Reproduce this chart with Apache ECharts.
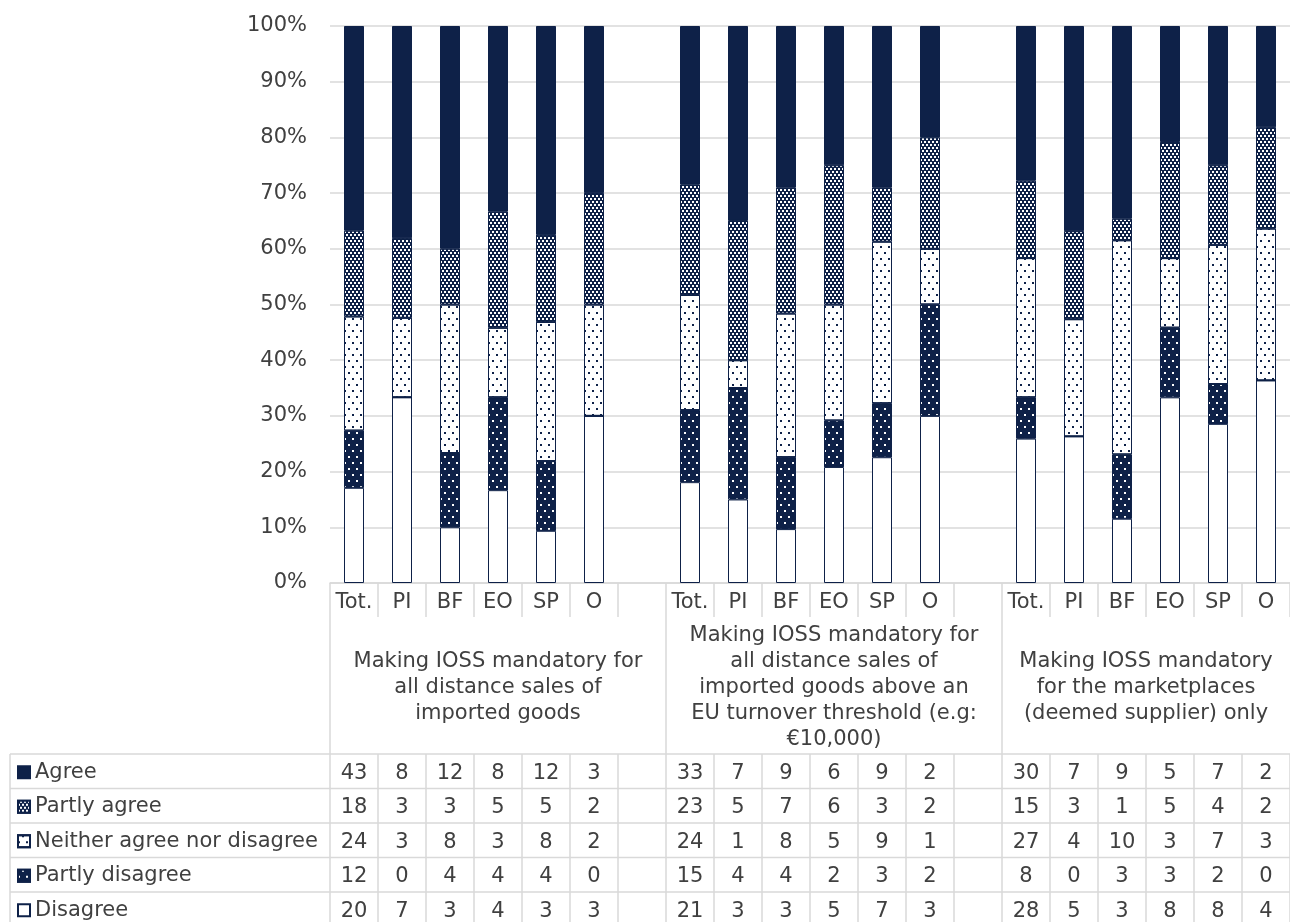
<!DOCTYPE html>
<html><head><meta charset="utf-8">
<script src="https://cdn.jsdelivr.net/npm/echarts@6/dist/echarts.min.js"></script>
<style>html,body{margin:0;padding:0;background:#fff}#c{width:1290px;height:922px}</style>
</head><body><div id="c"></div>
<script>
// ---- data ----
const subCategories = ['Tot.', 'PI', 'BF', 'EO', 'SP', 'O'];
const groupLabels = [
  'Making IOSS mandatory for\nall distance sales of\nimported goods',
  'Making IOSS mandatory for\nall distance sales of\nimported goods above an\nEU turnover threshold (e.g:\n€10,000)',
  'Making IOSS mandatory\nfor the marketplaces\n(deemed supplier) only'
];
const seriesNames = ['Agree', 'Partly agree', 'Neither agree nor disagree', 'Partly disagree', 'Disagree'];
const agree          = [43, 8, 12, 8, 12, 3,   33, 7, 9, 6, 9, 2,   30, 7, 9, 5, 7, 2];
const partlyAgree    = [18, 3, 3, 5, 5, 2,     23, 5, 7, 6, 3, 2,   15, 3, 1, 5, 4, 2];
const neither        = [24, 3, 8, 3, 8, 2,     24, 1, 8, 5, 9, 1,   27, 4, 10, 3, 7, 3];
const partlyDisagree = [12, 0, 4, 4, 4, 0,     15, 4, 4, 2, 3, 2,   8, 0, 3, 3, 2, 0];
const disagree       = [20, 7, 3, 4, 3, 3,     21, 3, 3, 5, 7, 3,   28, 5, 3, 8, 8, 4];

// ---- styles ----
const FONT = 'DejaVu Sans';
const TXT = '#404040';
const NAVY = '#0e2148';
const GRIDC = '#d9d9d9';
const FS = 21;

const counts = [agree, partlyAgree, neither, partlyDisagree, disagree];
const totals = agree.map((_, i) => counts.reduce((s, a) => s + a[i], 0));

const xSlots = [];
const slotToData = [];
groupLabels.forEach((g, gi) => {
  subCategories.forEach((c, ci) => { xSlots.push(c); slotToData.push(gi * subCategories.length + ci); });
  if (gi < groupLabels.length - 1) { xSlots.push(''); slotToData.push(-1); }
});
const pct = arr => slotToData.map(d => d < 0 ? null : arr[d] / totals[d] * 100);

const decals = {
  'Agree': null,
  'Partly agree': { symbol: 'rect', symbolSize: 1, color: '#ffffff', dashArrayX: [[2, 2], [0, 2, 2, 0]], dashArrayY: [2, 1] },
  'Neither agree nor disagree': { symbol: 'rect', symbolSize: 1, color: NAVY, dashArrayX: [[2, 6], [0, 4, 2, 2]], dashArrayY: [2, 4] },
  'Partly disagree': { symbol: 'rect', symbolSize: 1, color: '#ffffff', dashArrayX: [[2, 6], [0, 4, 2, 2]], dashArrayY: [2, 4] },
  'Disagree': null
};
const fills = { 'Agree': NAVY, 'Partly agree': NAVY, 'Neither agree nor disagree': '#ffffff', 'Partly disagree': NAVY, 'Disagree': '#ffffff' };

const series = seriesNames.slice().reverse().map(name => {
  const idx = seriesNames.indexOf(name);
  const it = { color: fills[name], borderColor: NAVY, borderWidth: 1 };
  if (decals[name]) it.decal = decals[name];
  return {
    name, type: 'bar', stack: 'all', barWidth: 20,
    data: pct(counts[idx]), itemStyle: it,
    emphasis: { disabled: true }
  };
});

const chart = echarts.init(document.getElementById('c'), null, { renderer: 'canvas' });
const ROW_H = 34.5, TABLE_TOP = 754, LEFT_X = 10;
const option = {
  animation: false,
  textStyle: { fontFamily: FONT },
  grid: { left: 330, top: 26, width: 966, height: 557, containLabel: false },
  legend: {
    orient: 'vertical', left: 17, top: TABLE_TOP + (ROW_H - 22) / 2 + 1, padding: 0,
    itemWidth: 12, itemHeight: 12, itemGap: ROW_H - 22, selectedMode: false,
    icon: 'rect', data: seriesNames,
    textStyle: { fontFamily: FONT, fontSize: FS, color: TXT, lineHeight: 22 }
  },
  xAxis: {
    type: 'category', data: xSlots,
    axisLine: { lineStyle: { color: GRIDC, width: 1.5 } },
    axisTick: { show: true, length: 34, interval: 0, lineStyle: { color: GRIDC, width: 1.5 } },
    axisLabel: { interval: 0, fontSize: FS, color: TXT, margin: 9, fontFamily: FONT }
  },
  yAxis: {
    type: 'value', min: 0, max: 100, interval: 10,
    axisLabel: { formatter: '{value}%', fontSize: FS, color: TXT, margin: 23, fontFamily: FONT },
    splitLine: { lineStyle: { color: GRIDC, width: 1.5 } },
    axisLine: { show: false }, axisTick: { show: false }
  },
  series
};
chart.setOption(option);

// ---- data table below the chart ----
const x0 = chart.convertToPixel({ xAxisIndex: 0 }, 0);
const x1 = chart.convertToPixel({ xAxisIndex: 0 }, 1);
const slotW = x1 - x0;
const bound = k => x0 - slotW / 2 + k * slotW;
const axisY = chart.convertToPixel({ yAxisIndex: 0 }, 0);
const H = 922 + 10;
const els = [];
const line = (ax, ay, bx, by) => els.push({ type: 'line', silent: true, z: 5, shape: { x1: ax, y1: ay, x2: bx, y2: by }, style: { stroke: GRIDC, lineWidth: 1.5 } });
for (let r = 0; r <= seriesNames.length; r++) line(LEFT_X, TABLE_TOP + r * ROW_H, bound(xSlots.length), TABLE_TOP + r * ROW_H);
line(LEFT_X, TABLE_TOP, LEFT_X, H);
for (let k = 0; k <= xSlots.length; k++) line(bound(k), TABLE_TOP, bound(k), H);
const groupStarts = [];
let s = 0;
groupLabels.forEach((g, gi) => { groupStarts.push(s); s += subCategories.length + (gi < groupLabels.length - 1 ? 1 : 0); });
groupStarts.forEach((st, gi) => {
  const end = gi < groupLabels.length - 1 ? groupStarts[gi + 1] : xSlots.length;
  line(bound(st), axisY + 34, bound(st), TABLE_TOP);
  els.push({
    type: 'text', silent: true, z: 6,
    style: {
      x: (bound(st) + bound(end)) / 2, y: (axisY + 34 + TABLE_TOP) / 2 + 2,
      text: groupLabels[gi], align: 'center', verticalAlign: 'middle',
      font: FS + 'px "' + FONT + '"', fill: TXT, lineHeight: 26
    }
  });
});
seriesNames.forEach((name, r) => {
  const arr = counts[r];
  slotToData.forEach((d, slot) => {
    if (d < 0) return;
    els.push({
      type: 'text', silent: true, z: 6,
      style: {
        x: chart.convertToPixel({ xAxisIndex: 0 }, slot), y: TABLE_TOP + r * ROW_H + ROW_H / 2 + 2,
        text: String(arr[d]), align: 'center', verticalAlign: 'middle',
        font: FS + 'px "' + FONT + '"', fill: TXT
      }
    });
  });
});
chart.setOption({ graphic: { elements: els } });
</script>
</body></html>
